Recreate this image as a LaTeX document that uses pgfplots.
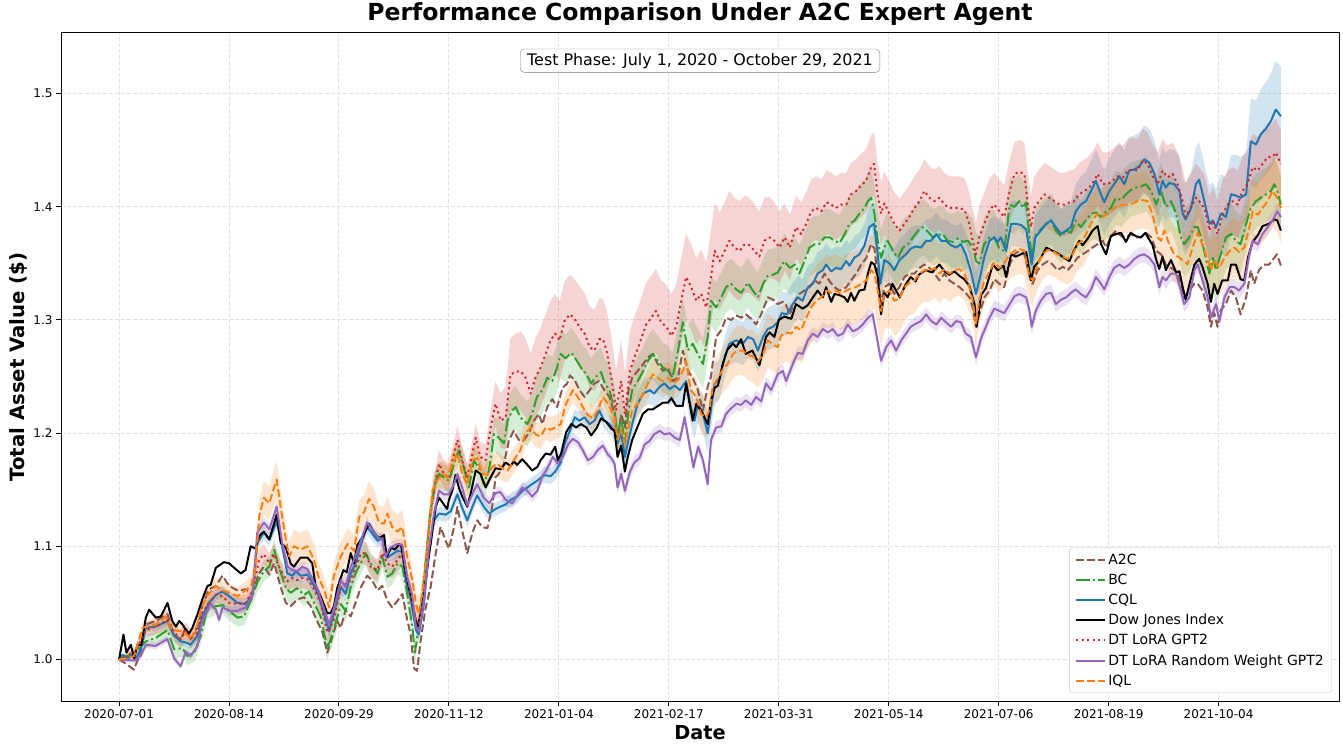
\documentclass[border=0pt]{standalone}
\usepackage{pgfplots}
\pgfplotsset{compat=1.18}
\usepackage{pgfplotstable}
\usepgfplotslibrary{fillbetween}
\usetikzlibrary{calc}
\usepackage{fontspec}
\setmainfont{DejaVu Sans}
\definecolor{a2cc}{HTML}{8C564B}
\definecolor{bcc}{HTML}{2CA02C}
\definecolor{cqlc}{HTML}{1F77B4}
\definecolor{dtc}{HTML}{D62728}
\definecolor{dtrc}{HTML}{9467BD}
\definecolor{iqlc}{HTML}{FF7F0E}
\definecolor{gridc}{RGB}{226,226,226}

\pgfplotstableread{
x y
0 1.000
1.2 1.022
2 1.006
3.2 1.013
4.1 1.001
5 1.013
6.1 1.013
7.3 1.037
8.2 1.044
10 1.037
11.4 1.038
13.2 1.050
14.5 1.034
15.5 1.029
16.4 1.034
17.3 1.031
18.2 1.026
19.1 1.023
20 1.028
21.4 1.040
22.7 1.053
24.1 1.065
25 1.066
26.4 1.081
27.7 1.084
28.6 1.086
30 1.085
31.4 1.081
33.2 1.076
34.5 1.079
35.9 1.100
37.3 1.098
38.2 1.109
39.5 1.113
41 1.106
41.8 1.115
43 1.128
44.1 1.103
45.5 1.099
46.8 1.085
47.7 1.082
48.6 1.086
49.5 1.090
51.4 1.090
52.7 1.085
53.6 1.065
55 1.056
56.8 1.041
57.7 1.041
58.6 1.047
59.5 1.063
61.2 1.079
62.1 1.077
63.2 1.094
64.1 1.085
65 1.101
66.4 1.108
68.2 1.120
69.1 1.115
70.5 1.108
71.4 1.108
72.3 1.110
73 1.091
74.3 1.099
75.2 1.097
76.5 1.102
77 1.100
78.2 1.076
79.5 1.058
80.9 1.035
81.5 1.029
82.7 1.047
84 1.079
85 1.102
86.4 1.135
87.3 1.143
88.6 1.137
89.5 1.133
90 1.141
90.9 1.149
91.8 1.163
92.7 1.152
93.6 1.144
95 1.135
95.9 1.146
97.3 1.167
98.6 1.164
100 1.152
101.4 1.161
102.7 1.169
104.1 1.168
105.5 1.174
106.8 1.171
107.7 1.175
108.6 1.172
110 1.177
111.4 1.172
112.7 1.167
114.1 1.170
115 1.176
116.4 1.182
117.7 1.181
119 1.188
119.7 1.176
120.6 1.182
122 1.201
123.4 1.208
124.7 1.205
126 1.208
127.5 1.205
128.8 1.198
130.2 1.204
131.5 1.213
132.9 1.210
134.3 1.204
135.2 1.202
136 1.179
137 1.189
138 1.166
138.8 1.179
140 1.194
141.5 1.206
142.9 1.217
144.3 1.221
145.6 1.221
147 1.224
148.4 1.227
149.8 1.227
150.7 1.231
152 1.224
153.8 1.224
154.7 1.244
156.5 1.211
157.5 1.226
159.3 1.217
160.6 1.208
161.5 1.229
162.5 1.240
163.4 1.242
164.7 1.261
166 1.274
167.5 1.279
168.4 1.276
169.7 1.283
171 1.270
172.8 1.273
174.7 1.260
176.5 1.285
177.5 1.289
178.8 1.285
180 1.300
181.5 1.303
183.4 1.301
184.7 1.314
186.5 1.310
187.9 1.313
189.3 1.320
190.6 1.326
192 1.320
192.9 1.329
194.3 1.316
195.2 1.323
196.5 1.322
197.9 1.320
198.8 1.316
199.7 1.324
200.6 1.317
202 1.326
203.4 1.327
204.3 1.341
205.2 1.351
206.1 1.349
207 1.338
207.9 1.305
208.8 1.324
209.7 1.320
211 1.332
213 1.320
214.7 1.332
216 1.338
217.3 1.334
218.2 1.340
220 1.344
221.8 1.342
223.8 1.349
225.2 1.343
226.5 1.340
227.9 1.343
229.3 1.339
230.6 1.336
232 1.330
233.4 1.314
234 1.294
235.2 1.322
236.5 1.328
238.4 1.349
239.7 1.344
241.3 1.348
242 1.338
243.4 1.358
244.7 1.356
246 1.358
247.5 1.360
248.8 1.335
249.7 1.347
251 1.352
253 1.364
254.8 1.361
256.5 1.358
257.8 1.355
259.3 1.352
260.6 1.362
262 1.370
262.9 1.366
264.3 1.372
265.6 1.379
267 1.383
267.9 1.367
269.3 1.358
270.6 1.374
272 1.376
273.4 1.377
274.7 1.369
276 1.377
277.5 1.374
278.8 1.373
280 1.377
282 1.366
282.9 1.354
283.8 1.345
284.7 1.356
285.6 1.344
287 1.353
288.4 1.342
289.3 1.343
290.2 1.329
291 1.318
292 1.331
293.4 1.349
294.7 1.354
295.6 1.347
297 1.332
297.9 1.316
298.8 1.332
299.7 1.323
301 1.335
302.5 1.335
303.4 1.349
304.7 1.349
306 1.336
307 1.335
308 1.355
309.3 1.369
310.7 1.375
312 1.383
313.8 1.385
315.2 1.389
316 1.388
317 1.379
}\dow

\pgfplotstableread{
x y
0 1.000
2 0.996
4 0.991
5.9 1.006
7.3 1.031
10 1.034
13.2 1.040
15 1.021
16.8 1.018
18.2 1.028
19.5 1.018
21.4 1.029
22.7 1.047
24.5 1.062
26.4 1.065
28.2 1.074
30 1.065
32.3 1.061
34.5 1.062
36.4 1.059
38.2 1.076
39.5 1.082
41 1.075
42.3 1.085
44 1.065
45.5 1.050
46.8 1.047
48.6 1.053
50.5 1.055
52.3 1.047
53.6 1.037
55.5 1.024
56.8 1.006
57.7 1.015
59.5 1.034
60.5 1.028
61.8 1.044
63.2 1.038
64.5 1.050
66 1.064
67.7 1.074
69.1 1.070
70.5 1.061
71.8 1.065
73.2 1.052
74.5 1.046
76 1.052
77.3 1.058
78.6 1.035
79.5 1.023
80.5 0.992
81.3 0.990
82.3 1.017
83.6 1.045
85 1.064
86.4 1.094
87.7 1.117
89.1 1.105
90 1.098
91.4 1.117
92.3 1.135
93.6 1.114
95 1.094
96.4 1.112
97.7 1.123
99.1 1.117
100.5 1.116
101.8 1.135
102.7 1.161
103.6 1.164
105 1.173
106.4 1.194
107.7 1.202
109.1 1.194
110.5 1.194
111.8 1.200
113.2 1.211
114.5 1.217
115.5 1.208
116.8 1.223
118.2 1.230
119.5 1.223
121 1.240
122.3 1.244
123 1.251
124.3 1.247
125.6 1.238
127 1.232
128.4 1.238
129.7 1.244
131 1.246
132.4 1.238
133.8 1.232
135.2 1.217
136 1.194
137 1.217
138 1.205
139 1.238
140 1.249
141.5 1.255
143 1.261
144.3 1.267
145.6 1.270
147 1.261
148.4 1.255
149.8 1.258
151 1.246
152.5 1.249
153.8 1.273
155.2 1.255
156.5 1.249
157.9 1.238
159.3 1.220
160.6 1.241
161.5 1.250
162.9 1.285
164.3 1.291
165.6 1.302
167 1.300
168.4 1.304
169.7 1.302
171 1.305
172.5 1.301
173.8 1.296
175.2 1.305
177 1.320
178.4 1.318
179.7 1.314
181.1 1.316
182 1.313
183 1.305
184.4 1.317
185.6 1.323
187 1.326
188.4 1.329
189.8 1.335
191 1.332
192.5 1.341
193.9 1.334
195.2 1.329
196.6 1.326
198.4 1.329
199.7 1.335
201.1 1.341
202.5 1.349
203.9 1.355
205.2 1.367
206.1 1.363
207 1.338
207.9 1.314
208.8 1.329
210.2 1.332
211.5 1.323
212.9 1.329
214.3 1.338
215.6 1.341
217 1.341
218.4 1.346
219.7 1.349
221.1 1.346
222.5 1.341
223.8 1.335
225.2 1.341
226.5 1.335
227.9 1.332
229.3 1.329
230.7 1.325
232 1.320
232.9 1.311
233.8 1.294
234.7 1.305
236.1 1.320
237.5 1.326
238.8 1.336
240.2 1.332
241.5 1.329
243 1.349
244.3 1.358
245.6 1.361
247 1.358
248.4 1.338
249.3 1.332
250.6 1.344
252 1.349
253.4 1.352
254.7 1.349
256 1.344
257.5 1.347
258.8 1.344
260.2 1.349
261.5 1.355
262.9 1.358
264.3 1.361
265.6 1.364
267 1.367
268.4 1.370
269.3 1.364
270.6 1.374
272 1.379
273.4 1.374
274.7 1.373
276.1 1.376
277.5 1.373
278.8 1.373
280.2 1.377
281.6 1.373
283 1.361
284.3 1.358
285.6 1.349
287 1.346
288.4 1.343
289.7 1.332
290.6 1.320
292 1.326
293.4 1.332
294.3 1.332
295.6 1.326
297 1.311
297.9 1.294
298.8 1.306
299.7 1.294
300.6 1.309
302 1.314
303.4 1.326
304.7 1.320
306 1.305
307.5 1.320
308.8 1.344
309.7 1.332
311 1.344
312.4 1.349
313.8 1.349
315.2 1.355
315.9 1.358
317 1.348
}\atwoc

\pgfplotstableread{
x y e
0 1.000 0.001
2 1.001 0.003
4.1 1.003 0.004
6.4 1.028 0.005
10 1.031 0.005
12.7 1.038 0.006
14.5 1.026 0.006
16.8 1.025 0.006
18 1.0235 0.006
19.5 1.018 0.006
20.9 1.025 0.006
22.3 1.044 0.007
24 1.056 0.007
26.4 1.065 0.008
28.2 1.061 0.008
30 1.059 0.008
32.3 1.056 0.008
34.1 1.060 0.008
36 1.065 0.008
37.3 1.082 0.012
38.2 1.126 0.015
39.5 1.143 0.015
41 1.138 0.015
41.8 1.147 0.016
43 1.159 0.017
44.1 1.134 0.016
45.5 1.106 0.014
46.4 1.091 0.013
47.7 1.100 0.015
49.5 1.097 0.015
51.4 1.100 0.015
53.2 1.088 0.014
54.5 1.072 0.013
55.9 1.062 0.012
57.3 1.046 0.012
58.6 1.074 0.012
60.5 1.091 0.013
62.3 1.102 0.014
64.1 1.096 0.014
65.5 1.126 0.015
66.8 1.130 0.015
68.2 1.142 0.016
69.5 1.135 0.016
70.9 1.121 0.015
72.3 1.120 0.015
73.2 1.129 0.015
74.5 1.117 0.015
76 1.113 0.015
77.3 1.117 0.015
78.6 1.091 0.013
80 1.070 0.012
81 1.049 0.012
81.8 1.040 0.012
83.2 1.070 0.012
84.5 1.114 0.013
85.5 1.149 0.013
86.8 1.158 0.013
88.2 1.164 0.012
89.5 1.161 0.012
91 1.173 0.012
92.3 1.182 0.012
93.6 1.164 0.012
95 1.155 0.012
96.4 1.176 0.012
97.7 1.178 0.012
99 1.164 0.011
100.5 1.163 0.011
101.8 1.170 0.011
103.2 1.173 0.011
104.5 1.169 0.011
106 1.167 0.011
107.7 1.176 0.011
109.5 1.185 0.011
110.9 1.200 0.011
112.3 1.205 0.011
113.6 1.199 0.011
115 1.197 0.011
116.4 1.205 0.011
117.7 1.203 0.011
119 1.205 0.011
120.5 1.208 0.011
121.8 1.225 0.011
123.8 1.238 0.011
125.2 1.232 0.011
126.5 1.223 0.011
127.9 1.216 0.011
129.3 1.213 0.011
130.6 1.220 0.011
132 1.232 0.011
133.4 1.226 0.011
135.2 1.214 0.012
136 1.194 0.012
137 1.203 0.012
138 1.190 0.012
138.8 1.202 0.012
140 1.220 0.012
141.5 1.226 0.012
143 1.235 0.013
144.3 1.244 0.013
145.6 1.252 0.014
147 1.249 0.014
148.4 1.246 0.014
149.8 1.249 0.014
151 1.244 0.015
152.5 1.247 0.015
153.8 1.255 0.015
154.7 1.264 0.015
156 1.238 0.016
157.5 1.232 0.017
158.8 1.217 0.018
160.2 1.214 0.018
161 1.220 0.019
162 1.241 0.020
163.4 1.249 0.020
164.7 1.256 0.020
166 1.261 0.021
167.5 1.270 0.021
168.8 1.273 0.022
170.2 1.273 0.022
171.5 1.269 0.022
172.9 1.268 0.023
174.3 1.263 0.023
175.7 1.270 0.023
177 1.282 0.024
178.4 1.278 0.024
179.7 1.276 0.024
180.6 1.286 0.025
182 1.289 0.026
183.4 1.288 0.027
184.7 1.294 0.028
186.1 1.291 0.029
187.5 1.302 0.030
188.8 1.311 0.031
190.2 1.317 0.031
191.6 1.320 0.032
193 1.326 0.032
194.3 1.324 0.032
195.6 1.326 0.032
197 1.323 0.032
198.4 1.326 0.032
199.7 1.328 0.032
201 1.329 0.032
202.5 1.332 0.032
203.9 1.335 0.032
205.2 1.344 0.032
206.1 1.341 0.032
207 1.326 0.032
207.9 1.308 0.032
208.8 1.323 0.032
210.2 1.326 0.031
211.5 1.317 0.031
212.9 1.319 0.030
214.3 1.329 0.030
215.6 1.333 0.029
217 1.335 0.029
218.4 1.341 0.028
219.7 1.344 0.028
221.1 1.343 0.027
222.5 1.346 0.026
223.8 1.341 0.026
225.2 1.345 0.025
226.5 1.341 0.025
228 1.344 0.024
229.3 1.345 0.024
230.6 1.341 0.023
232 1.329 0.022
232.9 1.317 0.022
233.8 1.296 0.021
234.7 1.318 0.021
236 1.334 0.021
237.5 1.343 0.021
238.8 1.351 0.021
240.2 1.346 0.021
241.5 1.350 0.021
243 1.358 0.022
244.3 1.361 0.022
245.6 1.363 0.022
247 1.361 0.022
248.4 1.338 0.022
249.3 1.335 0.022
250.6 1.349 0.022
252 1.358 0.022
253.4 1.362 0.022
254.7 1.361 0.022
256 1.358 0.022
257.5 1.356 0.023
258.8 1.354 0.023
260.2 1.358 0.023
261.5 1.367 0.023
262.9 1.370 0.023
264.3 1.379 0.024
265.6 1.388 0.024
267 1.394 0.024
268.4 1.391 0.024
269.7 1.394 0.024
271.1 1.398 0.024
272.5 1.401 0.025
273.9 1.402 0.025
275.2 1.402 0.025
276.6 1.403 0.025
277.9 1.405 0.025
279.3 1.406 0.025
280.6 1.405 0.025
282 1.393 0.025
283.4 1.373 0.025
284.3 1.370 0.025
285.2 1.379 0.025
286.5 1.367 0.025
287.9 1.358 0.025
289.3 1.355 0.025
290.6 1.352 0.025
291.5 1.349 0.025
292.9 1.364 0.025
294.3 1.377 0.025
295.2 1.370 0.025
296.5 1.358 0.025
297.9 1.344 0.025
298.8 1.353 0.025
300.2 1.346 0.025
301.6 1.355 0.026
303 1.361 0.026
304.3 1.364 0.026
305.6 1.360 0.026
307 1.364 0.027
308.4 1.382 0.027
309.3 1.396 0.028
310.7 1.393 0.028
312 1.399 0.029
313.4 1.405 0.030
314.7 1.414 0.030
316 1.408 0.031
317 1.399 0.031
}\iql

\pgfplotstableread{
x y e
0 1.000 0.001
1 1.004 0.002
2.3 1.001 0.002
3.6 1.004 0.003
4.5 1.000 0.003
5.9 1.009 0.003
7.3 1.028 0.004
10 1.029 0.004
13.2 1.034 0.004
15 1.021 0.004
16.8 1.016 0.004
18.2 1.015 0.004
19.5 1.013 0.004
21.4 1.021 0.004
22.7 1.038 0.004
24.5 1.050 0.005
26.4 1.057 0.005
28.2 1.060 0.005
30 1.056 0.005
32.3 1.050 0.005
34.5 1.049 0.005
36.4 1.057 0.005
37.7 1.103 0.006
39.5 1.112 0.006
41 1.106 0.006
43 1.122 0.006
44.5 1.100 0.006
45.9 1.076 0.006
47.3 1.074 0.006
48.2 1.078 0.006
49.5 1.074 0.006
51.4 1.075 0.006
53.2 1.065 0.006
54.5 1.056 0.006
57.3 1.025 0.006
58.6 1.041 0.006
60.5 1.064 0.006
61.8 1.058 0.006
63.2 1.076 0.006
64.5 1.085 0.006
66 1.102 0.006
67.7 1.117 0.006
69.1 1.111 0.006
70.5 1.105 0.006
71.8 1.107 0.006
73.2 1.090 0.006
74.5 1.093 0.006
76 1.096 0.006
77.3 1.095 0.006
78.2 1.070 0.006
79.5 1.055 0.006
81 1.026 0.006
81.8 1.022 0.006
83.2 1.050 0.006
84.5 1.094 0.006
85.9 1.123 0.006
87.3 1.129 0.006
89.1 1.128 0.006
90.5 1.131 0.006
92.3 1.146 0.006
93.6 1.134 0.006
95 1.123 0.006
96.4 1.135 0.006
97.7 1.145 0.006
99.5 1.135 0.006
101 1.129 0.006
102.7 1.133 0.006
104 1.135 0.006
105.5 1.137 0.006
106.8 1.141 0.006
108.6 1.144 0.006
110 1.149 0.006
111.4 1.152 0.006
112.7 1.155 0.006
114.1 1.158 0.006
116 1.163 0.007
117.7 1.162 0.007
119 1.166 0.007
120.5 1.174 0.007
121.5 1.190 0.007
123 1.202 0.007
124.3 1.214 0.007
125.6 1.211 0.008
127 1.214 0.008
128.4 1.208 0.008
129.7 1.211 0.008
131 1.220 0.008
132.4 1.211 0.008
133.8 1.208 0.008
135.2 1.202 0.009
136 1.191 0.009
137 1.200 0.009
138 1.179 0.009
138.8 1.191 0.010
140 1.208 0.010
141.5 1.226 0.011
143 1.235 0.012
144.8 1.238 0.012
146 1.235 0.013
147.5 1.241 0.013
148.8 1.244 0.014
150.2 1.239 0.014
151.6 1.242 0.015
153 1.238 0.015
154.7 1.246 0.015
156 1.223 0.016
157 1.211 0.016
158 1.226 0.016
159.3 1.217 0.017
160.6 1.200 0.017
161.5 1.221 0.017
162.5 1.244 0.018
163.8 1.247 0.018
165.2 1.267 0.018
166.5 1.279 0.019
168.4 1.282 0.019
170.2 1.279 0.019
171.6 1.285 0.019
173 1.283 0.019
174.3 1.273 0.019
175.7 1.285 0.019
177 1.292 0.019
178.4 1.294 0.019
179.7 1.298 0.019
180.8 1.306 0.019
182.2 1.305 0.019
183.8 1.314 0.019
185.2 1.320 0.019
186.5 1.317 0.019
187.9 1.329 0.019
189.3 1.332 0.019
190.6 1.341 0.019
192 1.344 0.019
192.9 1.349 0.019
194.3 1.343 0.019
195.6 1.346 0.019
197 1.345 0.019
198.4 1.352 0.019
199.3 1.348 0.019
200.6 1.355 0.019
202 1.358 0.019
203.4 1.366 0.019
204.7 1.382 0.019
206 1.385 0.019
206.9 1.361 0.019
207.7 1.332 0.019
208.8 1.353 0.019
210.2 1.350 0.019
211.5 1.344 0.019
212.9 1.353 0.019
214.7 1.358 0.019
216 1.363 0.019
217.3 1.365 0.019
218.8 1.364 0.019
220.2 1.370 0.019
221.5 1.370 0.019
223 1.376 0.019
224.3 1.370 0.019
225.6 1.370 0.019
227 1.366 0.019
228.4 1.364 0.019
229.7 1.367 0.019
231 1.358 0.019
232.4 1.343 0.019
233.8 1.323 0.019
235.1 1.341 0.019
236 1.355 0.019
237.5 1.370 0.019
238.8 1.373 0.019
239.7 1.369 0.019
240.6 1.373 0.019
242 1.361 0.019
243.4 1.385 0.020
244.7 1.385 0.020
246.1 1.384 0.020
247.5 1.380 0.020
248.4 1.361 0.020
249 1.349 0.020
250 1.373 0.020
251.5 1.379 0.020
253 1.385 0.020
254.3 1.388 0.021
255.6 1.382 0.021
257 1.376 0.022
258.4 1.379 0.022
259.7 1.382 0.023
261 1.396 0.024
262.4 1.402 0.025
263.8 1.405 0.026
265.2 1.414 0.027
266.5 1.423 0.028
267.9 1.411 0.028
268.8 1.404 0.029
270.2 1.414 0.029
271.5 1.420 0.030
272.9 1.427 0.030
274.3 1.420 0.030
275.6 1.432 0.030
277 1.433 0.030
278.4 1.436 0.030
279.7 1.442 0.030
281.1 1.439 0.030
282.5 1.429 0.030
283.8 1.411 0.030
284.7 1.423 0.030
285.6 1.417 0.030
286.5 1.421 0.030
287.9 1.420 0.030
289.3 1.414 0.031
290.2 1.394 0.031
291 1.389 0.032
292.5 1.399 0.032
293.8 1.420 0.033
294.7 1.424 0.033
296.1 1.405 0.033
297.5 1.385 0.034
298.4 1.388 0.034
299.3 1.382 0.034
300.6 1.394 0.035
302 1.391 0.035
303.4 1.411 0.035
304.7 1.410 0.036
306 1.408 0.036
307.5 1.411 0.037
308.8 1.458 0.038
310.2 1.455 0.039
311.5 1.464 0.040
312.9 1.469 0.041
314.3 1.476 0.042
315.6 1.486 0.043
317 1.480 0.044
}\cql

\pgfplotstableread{
x y e
0 1.000 0.001
4.1 0.999 0.002
5.9 1.003 0.003
7.3 1.013 0.003
10 1.012 0.003
13.2 1.018 0.003
15 1.001 0.003
16.8 0.994 0.003
18.2 1.007 0.003
19.5 1.003 0.003
21.4 1.012 0.003
22.7 1.034 0.004
25 1.049 0.004
26.4 1.044 0.004
27.3 1.035 0.004
28.2 1.046 0.004
30 1.043 0.004
32.3 1.043 0.004
34.5 1.046 0.004
36.4 1.057 0.004
37.7 1.112 0.005
39.5 1.121 0.005
41 1.115 0.005
43 1.135 0.005
44.5 1.103 0.005
46 1.082 0.005
47.3 1.079 0.005
48.6 1.078 0.005
50 1.082 0.005
51.4 1.080 0.005
53.2 1.068 0.005
54.5 1.059 0.005
57.3 1.031 0.005
58.6 1.045 0.005
60.5 1.070 0.005
61.8 1.064 0.005
63.2 1.082 0.005
64.5 1.091 0.005
66 1.105 0.005
67.7 1.121 0.005
69.1 1.115 0.005
70.5 1.108 0.005
71.8 1.106 0.005
72.7 1.091 0.005
74 1.099 0.005
75.9 1.102 0.005
77.3 1.101 0.005
78.6 1.073 0.005
79.9 1.058 0.005
81 1.029 0.005
81.8 1.025 0.005
83.2 1.053 0.005
84.5 1.096 0.005
85.9 1.129 0.005
87.3 1.149 0.005
88.6 1.146 0.005
90 1.146 0.005
91.4 1.155 0.005
92.3 1.164 0.005
93.6 1.152 0.005
95 1.136 0.005
96.4 1.146 0.005
97.7 1.155 0.005
99.5 1.143 0.005
101 1.138 0.005
102.7 1.147 0.005
104 1.148 0.005
105.5 1.141 0.005
107.3 1.138 0.005
108.6 1.145 0.005
110 1.152 0.005
111.4 1.149 0.005
112.7 1.144 0.005
114.1 1.149 0.005
115.5 1.162 0.005
116.5 1.167 0.005
118.4 1.179 0.005
119.7 1.173 0.005
121.1 1.179 0.005
122.5 1.190 0.005
123.8 1.195 0.005
125.2 1.192 0.005
126.5 1.185 0.005
127.9 1.176 0.005
129.3 1.179 0.005
130.6 1.185 0.005
132 1.189 0.005
133.4 1.181 0.005
134.3 1.178 0.005
135.2 1.173 0.005
136 1.152 0.006
137 1.164 0.006
138 1.149 0.006
139.4 1.166 0.006
140.6 1.174 0.006
142 1.178 0.006
143.4 1.190 0.006
144.7 1.193 0.006
146 1.199 0.006
147.5 1.202 0.006
148.8 1.199 0.006
150.2 1.200 0.006
151.6 1.196 0.006
153 1.194 0.006
154.3 1.214 0.006
155.6 1.190 0.006
156.7 1.170 0.006
158 1.188 0.006
159.3 1.176 0.006
160.6 1.155 0.006
161.5 1.194 0.006
162.9 1.205 0.006
164.3 1.206 0.006
165.6 1.217 0.006
167 1.222 0.006
168.4 1.226 0.006
169.7 1.225 0.006
171 1.229 0.006
172.5 1.225 0.006
173.8 1.232 0.006
175.2 1.228 0.006
176.5 1.244 0.006
177.9 1.238 0.006
179.7 1.252 0.006
181.1 1.255 0.006
182 1.246 0.006
183.8 1.261 0.006
185.2 1.271 0.006
186.5 1.270 0.006
187.9 1.282 0.006
189.3 1.288 0.006
190.6 1.285 0.006
192 1.292 0.006
193.4 1.289 0.006
194.7 1.292 0.006
196.1 1.286 0.006
197.5 1.288 0.006
198.8 1.296 0.006
200.2 1.290 0.006
201.5 1.292 0.006
202.9 1.296 0.006
204.3 1.302 0.006
205.6 1.305 0.006
206.9 1.282 0.006
207.9 1.264 0.006
209.3 1.276 0.006
210.6 1.282 0.006
212 1.273 0.006
213.4 1.282 0.006
214.7 1.288 0.006
216 1.294 0.006
217.5 1.297 0.006
218.8 1.299 0.006
220.2 1.305 0.006
221.6 1.299 0.006
223 1.296 0.006
224.3 1.302 0.006
225.6 1.298 0.006
227 1.294 0.006
228.4 1.299 0.006
229.7 1.298 0.006
231 1.288 0.006
232.4 1.285 0.006
233.8 1.267 0.007
235.2 1.284 0.007
236.5 1.294 0.007
237.5 1.302 0.007
238.8 1.310 0.007
240.2 1.308 0.007
241.5 1.306 0.007
243 1.314 0.007
244.3 1.321 0.007
245.6 1.323 0.007
247.5 1.320 0.007
248.4 1.308 0.007
249 1.294 0.007
250.1 1.308 0.007
251.5 1.317 0.007
252.9 1.323 0.007
254.3 1.324 0.007
255.6 1.314 0.007
257 1.318 0.007
258.4 1.320 0.007
259.7 1.324 0.007
261 1.327 0.007
262.4 1.323 0.007
263.8 1.320 0.007
265.2 1.327 0.007
266.5 1.338 0.007
267.9 1.332 0.007
268.8 1.327 0.007
270.2 1.338 0.007
271.5 1.346 0.007
272.9 1.349 0.007
274.3 1.346 0.007
275.6 1.349 0.007
277 1.354 0.007
278.4 1.357 0.007
279.7 1.358 0.007
281.1 1.355 0.007
282.5 1.349 0.007
283.8 1.329 0.007
284.7 1.338 0.007
285.6 1.335 0.007
287 1.341 0.007
288.4 1.341 0.007
289.7 1.326 0.007
290.6 1.314 0.007
292 1.320 0.007
293.4 1.344 0.007
294.3 1.349 0.007
295.6 1.335 0.007
297 1.320 0.007
297.9 1.302 0.007
299.3 1.314 0.007
300.2 1.299 0.007
301.6 1.320 0.007
303 1.329 0.007
304.3 1.329 0.007
305.6 1.326 0.007
307 1.332 0.007
308.4 1.358 0.007
309.3 1.370 0.007
310.7 1.367 0.007
312 1.376 0.007
313.4 1.382 0.007
314.7 1.388 0.007
316 1.396 0.007
317 1.391 0.007
}\dtr

\pgfplotstableread{
x y e
0 1.000 0.001
4.5 1.006 0.004
7.3 1.016 0.006
10 1.019 0.007
13.2 1.026 0.008
15 1.009 0.008
17.3 1.010 0.008
18.6 1.003 0.008
20.5 1.006 0.008
22.3 1.021 0.008
24 1.044 0.008
26.4 1.047 0.008
28.2 1.048 0.008
30 1.043 0.008
32.3 1.037 0.008
34.1 1.038 0.008
36.4 1.056 0.008
37.7 1.068 0.009
39.5 1.078 0.009
41 1.082 0.009
42.3 1.097 0.010
43.6 1.082 0.010
45.5 1.063 0.010
46.8 1.059 0.010
48.6 1.063 0.010
50.5 1.057 0.010
51.8 1.060 0.010
53.2 1.050 0.010
55 1.038 0.010
56.8 1.010 0.010
58.6 1.026 0.010
60.5 1.049 0.010
61.8 1.043 0.010
63.2 1.064 0.010
64.5 1.076 0.010
65.9 1.085 0.010
67.3 1.094 0.010
68.6 1.085 0.010
70.5 1.076 0.010
71.8 1.091 0.010
73.2 1.073 0.010
74.5 1.076 0.010
76 1.085 0.010
77.3 1.082 0.010
78.6 1.058 0.010
80 1.029 0.010
80.7 1.006 0.010
82.3 1.041 0.010
83.6 1.085 0.011
85 1.132 0.011
86.4 1.158 0.011
87.3 1.164 0.011
88.6 1.161 0.011
90 1.158 0.012
91.4 1.173 0.012
92.7 1.185 0.012
94 1.170 0.012
95.5 1.152 0.012
96.8 1.176 0.012
98.2 1.169 0.013
99.5 1.155 0.013
100.9 1.167 0.014
102.3 1.199 0.015
103.6 1.196 0.016
105 1.191 0.017
106 1.211 0.018
107.3 1.220 0.019
108.2 1.223 0.019
109.5 1.214 0.020
111.4 1.208 0.020
112.7 1.217 0.020
114 1.232 0.021
115.5 1.238 0.021
116.8 1.249 0.021
118.2 1.246 0.021
119.5 1.258 0.021
120.5 1.270 0.021
121.8 1.266 0.021
123.4 1.271 0.022
124.7 1.265 0.022
126 1.258 0.022
127.5 1.252 0.022
128.8 1.244 0.022
130.2 1.250 0.022
131.5 1.254 0.022
132.5 1.244 0.022
133.8 1.238 0.022
135.2 1.220 0.022
136 1.199 0.022
137 1.214 0.022
138 1.190 0.022
139 1.220 0.022
140 1.238 0.022
141.5 1.246 0.022
143 1.255 0.022
144.3 1.264 0.022
145.6 1.270 0.022
147 1.264 0.022
148.4 1.258 0.022
149.8 1.255 0.022
151 1.249 0.022
152.5 1.273 0.022
153.8 1.298 0.022
155.2 1.273 0.022
156.5 1.279 0.022
157.9 1.270 0.022
159.3 1.261 0.022
160.6 1.285 0.022
161.5 1.317 0.022
162.9 1.311 0.022
164.3 1.320 0.022
165.6 1.329 0.022
167 1.332 0.022
168.4 1.327 0.022
169.8 1.324 0.022
171.5 1.333 0.022
172.9 1.326 0.022
174.3 1.320 0.022
175.7 1.332 0.022
177 1.339 0.023
178.4 1.340 0.023
179.7 1.342 0.023
181.5 1.352 0.024
183 1.346 0.024
184.4 1.349 0.024
185.6 1.341 0.025
187 1.352 0.025
188.4 1.364 0.025
189.8 1.367 0.025
191 1.367 0.025
192.5 1.373 0.025
193.9 1.373 0.025
195.2 1.370 0.025
196.6 1.368 0.025
198 1.376 0.025
199.3 1.385 0.025
200.7 1.388 0.025
202 1.394 0.025
203.4 1.399 0.025
204.3 1.405 0.025
205.2 1.408 0.025
206.1 1.394 0.025
207 1.370 0.025
207.9 1.355 0.025
208.8 1.364 0.025
209.7 1.370 0.025
211.1 1.361 0.025
212.5 1.355 0.025
213.9 1.364 0.025
215.2 1.367 0.025
216.6 1.373 0.025
218 1.379 0.025
219.3 1.382 0.025
220.7 1.378 0.025
222 1.373 0.025
223.4 1.375 0.025
224.7 1.376 0.025
226.1 1.370 0.025
227.5 1.369 0.025
228.9 1.372 0.025
230.2 1.369 0.025
231.6 1.370 0.025
233 1.364 0.025
233.8 1.352 0.025
234.7 1.350 0.025
236 1.367 0.024
237.5 1.373 0.024
238.8 1.373 0.024
240.2 1.363 0.024
241.5 1.361 0.024
243 1.402 0.024
244.3 1.400 0.024
245.6 1.405 0.024
246.6 1.399 0.024
247.5 1.404 0.024
248.4 1.373 0.024
249 1.355 0.024
250.1 1.375 0.024
251.5 1.380 0.024
252.9 1.385 0.024
254.3 1.388 0.024
255.6 1.379 0.024
257 1.374 0.024
258.4 1.379 0.024
259.7 1.377 0.024
261 1.388 0.024
262.4 1.382 0.024
263.8 1.388 0.024
265.2 1.394 0.024
266.5 1.395 0.024
267.9 1.391 0.024
269.3 1.396 0.024
270.6 1.399 0.024
272 1.408 0.024
273.4 1.406 0.024
274.7 1.411 0.024
276.1 1.415 0.024
277.5 1.417 0.024
278.8 1.418 0.024
280.2 1.420 0.024
281.6 1.414 0.024
283 1.402 0.024
284.3 1.414 0.025
285.6 1.400 0.025
287 1.405 0.026
288.4 1.394 0.027
289.7 1.373 0.028
290.6 1.367 0.029
292 1.373 0.030
293.4 1.382 0.030
294.3 1.382 0.030
295.2 1.373 0.030
296.5 1.355 0.030
297.5 1.341 0.030
298.4 1.355 0.030
299.3 1.344 0.030
300.6 1.358 0.029
302 1.373 0.028
303.4 1.376 0.027
304.7 1.370 0.026
306 1.367 0.025
307.5 1.385 0.024
308.8 1.399 0.024
310.2 1.405 0.024
311.5 1.408 0.024
312.9 1.411 0.024
314.3 1.414 0.024
315.2 1.420 0.024
316 1.414 0.024
317 1.402 0.024
}\bc

\pgfplotstableread{
x y e
0 1.000 0.001
4.5 1.007 0.004
7.3 1.026 0.006
10 1.029 0.007
13.2 1.035 0.008
15 1.024 0.008
16.8 1.018 0.008
18.2 1.025 0.008
19.5 1.018 0.008
21.4 1.024 0.008
22.7 1.041 0.008
24.5 1.050 0.008
26.4 1.057 0.008
28.2 1.056 0.008
30 1.050 0.008
32.3 1.049 0.008
34.5 1.050 0.008
36.4 1.060 0.008
38.2 1.088 0.009
39.5 1.093 0.009
41 1.085 0.009
42.3 1.093 0.009
44 1.079 0.009
45.9 1.069 0.009
47.3 1.072 0.009
48.6 1.070 0.009
50 1.072 0.009
51.4 1.071 0.009
53.2 1.062 0.009
55 1.050 0.009
56.8 1.024 0.009
58.6 1.035 0.009
60.5 1.064 0.009
63.2 1.070 0.009
66 1.094 0.010
67.3 1.094 0.010
68.6 1.082 0.010
70.5 1.079 0.010
71.8 1.094 0.010
73.2 1.085 0.010
74.5 1.082 0.010
76 1.088 0.010
77.3 1.094 0.010
78.6 1.070 0.010
80 1.049 0.010
81 1.035 0.010
81.8 1.032 0.010
83.2 1.058 0.010
84.5 1.117 0.011
86 1.152 0.011
87.3 1.173 0.012
88.6 1.164 0.012
90 1.160 0.012
91.4 1.182 0.012
92.3 1.194 0.012
93.6 1.176 0.012
95 1.161 0.012
96.4 1.182 0.012
97.3 1.196 0.013
98.6 1.179 0.013
100 1.176 0.014
101.4 1.205 0.016
102.7 1.226 0.020
104.1 1.211 0.024
105.5 1.214 0.028
106.8 1.252 0.032
108.2 1.254 0.034
109.5 1.255 0.035
110.9 1.249 0.035
112.3 1.235 0.035
113.6 1.249 0.035
115 1.258 0.035
116.4 1.270 0.035
117.7 1.282 0.035
119 1.288 0.035
120.2 1.282 0.035
121.5 1.299 0.035
123 1.305 0.035
124.3 1.301 0.035
125.6 1.294 0.036
127 1.288 0.036
128.4 1.276 0.036
129.7 1.273 0.036
131 1.283 0.036
132 1.283 0.036
133 1.273 0.036
134.3 1.249 0.036
135.6 1.220 0.036
137 1.246 0.036
138 1.217 0.036
139.4 1.255 0.036
140.6 1.267 0.036
142 1.279 0.036
143.8 1.296 0.037
145.2 1.302 0.037
146.5 1.308 0.037
147.9 1.298 0.037
149.3 1.294 0.037
150.7 1.286 0.037
152 1.294 0.037
153.4 1.317 0.038
154.7 1.338 0.038
156.1 1.329 0.038
157.5 1.317 0.038
158.8 1.323 0.039
160.2 1.311 0.040
161.5 1.338 0.041
162.5 1.361 0.042
163.9 1.352 0.043
165.2 1.361 0.043
166.5 1.370 0.044
167.9 1.364 0.044
169.3 1.361 0.044
170.7 1.367 0.043
172 1.366 0.042
173.4 1.361 0.041
174.7 1.356 0.040
176.1 1.370 0.038
177.5 1.373 0.036
178.8 1.370 0.034
180.2 1.364 0.032
181.6 1.373 0.030
183 1.364 0.029
184.7 1.382 0.028
186.1 1.376 0.028
187.5 1.385 0.028
188.8 1.396 0.028
190.2 1.399 0.028
191.6 1.396 0.028
193 1.404 0.028
194.3 1.402 0.028
195.6 1.399 0.028
197 1.402 0.028
198.4 1.402 0.028
199.7 1.411 0.028
201.1 1.414 0.028
202.5 1.419 0.028
203.8 1.423 0.028
205.2 1.435 0.028
206 1.438 0.028
206.9 1.412 0.028
207.9 1.394 0.028
208.8 1.403 0.028
210.2 1.394 0.028
211.5 1.385 0.028
213 1.379 0.028
214.3 1.385 0.028
215.6 1.391 0.028
217 1.399 0.028
218.4 1.405 0.028
219.7 1.414 0.028
221.1 1.408 0.028
222.5 1.405 0.028
223.8 1.408 0.028
225.2 1.402 0.028
226.5 1.399 0.028
227.9 1.399 0.028
229.3 1.399 0.028
230.7 1.397 0.028
232 1.385 0.028
232.9 1.370 0.028
233.8 1.358 0.028
234.7 1.373 0.028
236.1 1.385 0.028
237.5 1.397 0.028
238.8 1.402 0.028
240.2 1.396 0.028
241.5 1.391 0.028
243 1.414 0.028
244.3 1.429 0.028
245.6 1.431 0.028
247 1.429 0.028
247.9 1.403 0.028
248.8 1.382 0.028
249.7 1.399 0.028
251 1.405 0.028
252.5 1.411 0.028
253.8 1.408 0.028
255.2 1.405 0.028
256.6 1.402 0.028
258 1.402 0.028
259.3 1.404 0.028
260.6 1.405 0.028
262 1.411 0.028
263.4 1.414 0.028
264.7 1.417 0.028
266 1.423 0.028
267 1.429 0.028
268.4 1.420 0.028
269.7 1.420 0.028
271.1 1.423 0.028
272.5 1.427 0.028
273.9 1.426 0.028
275.2 1.432 0.028
276.6 1.433 0.028
277.9 1.432 0.028
279.3 1.441 0.028
280.6 1.438 0.028
282 1.427 0.028
283.4 1.420 0.028
284.7 1.432 0.028
286.1 1.426 0.028
287.5 1.429 0.028
288.8 1.420 0.028
290.2 1.405 0.029
291 1.391 0.030
292.5 1.400 0.030
293.8 1.408 0.030
294.7 1.405 0.030
296.1 1.399 0.030
297.5 1.379 0.030
298.4 1.388 0.030
299.7 1.376 0.030
301.1 1.394 0.030
302.5 1.402 0.030
303.9 1.405 0.030
305.2 1.402 0.030
306.5 1.414 0.030
307.9 1.420 0.030
309.3 1.435 0.030
310.7 1.432 0.030
312 1.438 0.030
313.4 1.444 0.030
314.7 1.444 0.030
315.6 1.448 0.030
317 1.438 0.030
}\dt

\begin{document}
\begin{tikzpicture}
\begin{axis}[
  name=ax,
  scale only axis,
  width=1278pt, height=668pt,
  xmin=-15.85, xmax=332.85,
  ymin=0.9633, ymax=1.5536,
  axis line style={line width=1pt},
  xtick={0,30,60,90,120,150,180,210,240,270,300},
  xticklabels={2020-07-01,2020-08-14,2020-09-29,2020-11-12,2021-01-04,2021-02-17,2021-03-31,2021-05-14,2021-07-06,2021-08-19,2021-10-04},
  ytick={1.0,1.1,1.2,1.3,1.4,1.5},
  yticklabels={1.0,1.1,1.2,1.3,1.4,1.5},
  tick label style={font=\fontsize{12}{14}\selectfont},
  tick align=outside,
  major tick length=5pt,
  every tick/.style={line width=1pt, black},
  xtick pos=bottom, ytick pos=left,
  grid=major,
  major grid style={gridc, line width=1pt, dash pattern=on 4pt off 2pt},
  title={Performance Comparison Under A2C Expert Agent},
  title style={at={(axis description cs:0.5,1.009)}, anchor=base, font=\bfseries\fontsize{23.5}{27}\selectfont},
  xlabel={Date},
  xlabel style={at={(axis description cs:0.5,-0.048)}, anchor=center, font=\bfseries\fontsize{19.3}{22}\selectfont},
  ylabel={Total Asset Value (\$)},
  ylabel style={at={(axis description cs:-0.0336,0.5)}, anchor=center, font=\bfseries\fontsize{19.7}{22}\selectfont},
  legend cell align=left,
  legend style={at={(axis description cs:0.9945,0.012)}, anchor=south east, draw={rgb,255:red,204;green,204;blue,204}, rounded corners=3pt, fill=white, font=\fontsize{14}{16}\selectfont, row sep=4.2pt, inner xsep=6pt, inner ysep=4pt},
  legend image code/.code={\draw[#1] (0pt,0pt) -- (29pt,0pt);},
  every axis plot/.append style={line join=round},
]
% bands
\addplot[draw=none, name path=bcU, forget plot] table[x=x, y expr=\thisrow{y}+\thisrow{e}] {\bc};
\addplot[draw=none, name path=bcL, forget plot] table[x=x, y expr=\thisrow{y}-\thisrow{e}] {\bc};
\addplot[bcc, fill opacity=0.2, forget plot] fill between[of=bcU and bcL];
\addplot[draw=none, name path=cqlU, forget plot] table[x=x, y expr=\thisrow{y}+\thisrow{e}] {\cql};
\addplot[draw=none, name path=cqlL, forget plot] table[x=x, y expr=\thisrow{y}-\thisrow{e}] {\cql};
\addplot[cqlc, fill opacity=0.2, forget plot] fill between[of=cqlU and cqlL];
\addplot[draw=none, name path=dtU, forget plot] table[x=x, y expr=\thisrow{y}+\thisrow{e}] {\dt};
\addplot[draw=none, name path=dtL, forget plot] table[x=x, y expr=\thisrow{y}-\thisrow{e}] {\dt};
\addplot[dtc, fill opacity=0.2, forget plot] fill between[of=dtU and dtL];
\addplot[draw=none, name path=dtrU, forget plot] table[x=x, y expr=\thisrow{y}+\thisrow{e}] {\dtr};
\addplot[draw=none, name path=dtrL, forget plot] table[x=x, y expr=\thisrow{y}-\thisrow{e}] {\dtr};
\addplot[dtrc, fill opacity=0.2, forget plot] fill between[of=dtrU and dtrL];
\addplot[draw=none, name path=iqlU, forget plot] table[x=x, y expr=\thisrow{y}+\thisrow{e}] {\iql};
\addplot[draw=none, name path=iqlL, forget plot] table[x=x, y expr=\thisrow{y}-\thisrow{e}] {\iql};
\addplot[iqlc, fill opacity=0.2, forget plot] fill between[of=iqlU and iqlL];
% lines
\addplot[a2cc, line width=2pt, dash pattern=on 7.7pt off 3.3pt] table[x=x,y=y] {\atwoc};
\addlegendentry{A2C}
\addplot[bcc, line width=2pt, dash pattern=on 13.3pt off 3.3pt on 2.1pt off 3.3pt] table[x=x,y=y] {\bc};
\addlegendentry{BC}
\addplot[cqlc, line width=2pt] table[x=x,y=y] {\cql};
\addlegendentry{CQL}
\addplot[black, line width=2pt] table[x=x,y=y] {\dow};
\addlegendentry{Dow Jones Index}
\addplot[dtc, line width=2pt, dash pattern=on 2.1pt off 3.4pt] table[x=x,y=y] {\dt};
\addlegendentry{DT LoRA GPT2}
\addplot[dtrc, line width=2pt] table[x=x,y=y] {\dtr};
\addlegendentry{DT LoRA Random Weight GPT2}
\addplot[iqlc, line width=2pt, dash pattern=on 7.7pt off 3.3pt] table[x=x,y=y] {\iql};
\addlegendentry{IQL}
\node[anchor=center, draw=gray, rounded corners=4pt, fill=white, font=\fontsize{15.9}{18}\selectfont, inner xsep=7pt, inner ysep=4pt] at (axis description cs:0.5,0.9585) {Test Phase: July 1, 2020 - October 29, 2021};
\node[anchor=south west, font=\fontsize{12}{14}\selectfont, inner sep=1pt] at (axis description cs:0,1.003) {1e6};
\end{axis}
\pgfresetboundingbox
\path[use as bounding box] ($(ax.south west)+(-61pt,-43pt)$) rectangle ($(ax.north east)+(4pt,33pt)$);
\end{tikzpicture}
\end{document}
